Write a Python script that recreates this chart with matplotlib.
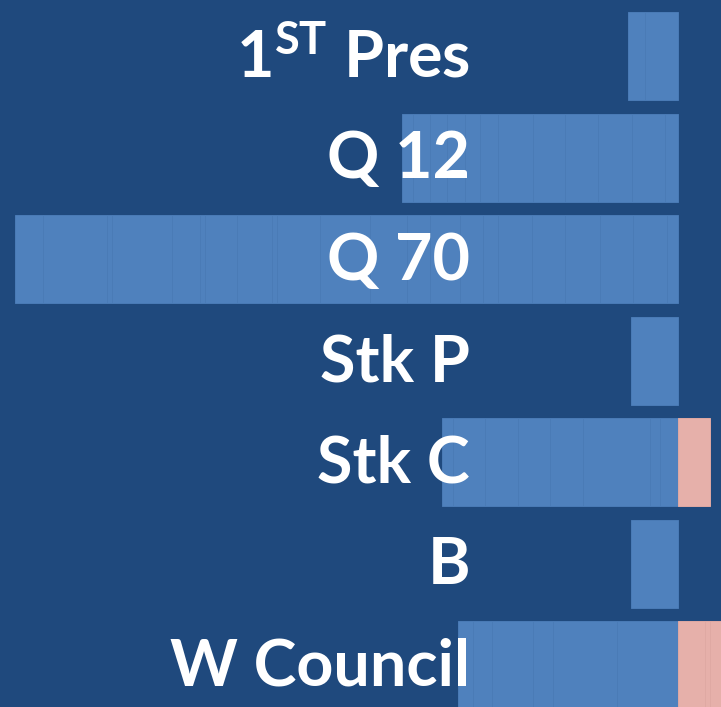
import numpy as np
import matplotlib
matplotlib.use('Agg')
import matplotlib.pyplot as plt

plt.rcParams['mathtext.fontset'] = 'custom'
plt.rcParams['mathtext.rm'] = 'Lato:bold'
plt.rcParams['mathtext.it'] = 'Lato:bold'
plt.rcParams['mathtext.bf'] = 'Lato:bold'

labels = ['1$^{\\mathrm{ST}}$ Pres', 'Q 12', 'Q 70', 'Stk P', 'Stk C', 'B', 'W Council']

# segment sizes, listed from the zero line outward
against = [
    [33, 17],
    [13, 33, 34, 33, 32, 35, 18, 15, 18, 17, 17, 11],
    [11, 34, 33, 35, 33, 34, 15, 23, 30, 23, 37, 50, 43, 5, 35, 32, 5, 28, 60, 5, 64, 28],
    [47],
    [18, 10, 67, 33, 32, 33, 32, 11],
    [47],
    [61, 64, 20, 41, 19, 15],
]
favour = [
    [],
    [],
    [],
    [],
    [32],
    [],
    [27, 5, 15],
]

bg = '#1f497d'
blue = '#4f81bd'
pink = '#e6b0aa'

fig = plt.figure(figsize=(7.21, 7.07), dpi=100)
fig.patch.set_facecolor(bg)
ax = fig.add_axes([0, 0, 1, 1])
ax.set_facecolor(bg)

h = 0.867
for i in range(len(labels)):
    left = 0
    for v in against[i]:
        ax.barh(i, -v, left=-left, height=h, color=blue, edgecolor='#4a7bb6', linewidth=0.7)
        left += v
    left = 0
    for v in favour[i]:
        ax.barh(i, v, left=left, height=h, color=pink, edgecolor='#dfa9a3', linewidth=0.7)
        left += v
    ax.text(-208, i + 0.02, labels[i], ha='right', va='center', color='white',
            fontsize=46.5, fontweight='bold', family='Lato', zorder=5)

ax.set_xlim(-678, 43)
ax.set_ylim(6.41, -0.552)
ax.axis('off')

fig.savefig('out.png', dpi=100, facecolor=bg)
